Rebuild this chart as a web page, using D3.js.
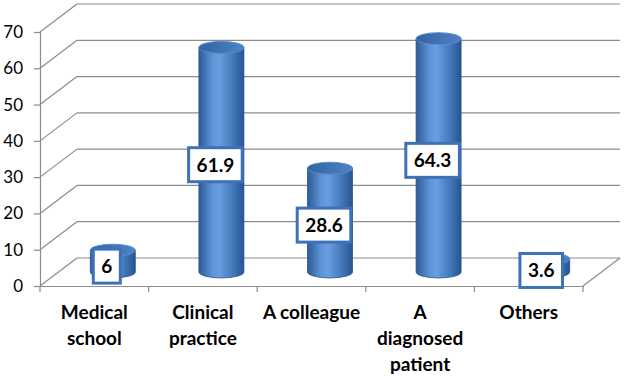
<!DOCTYPE html>
<html>
<head>
<meta charset="utf-8">
<script src="https://cdn.jsdelivr.net/npm/d3@7"></script>
<style>
    body { margin: 0; background: #fff; }
    svg { display: block; font-family: Lato, "Open Sans", sans-serif; }
</style>
</head>
<body>
<div id="chart"></div>
<script>
// data
let categories = [["Medical", "school"], ["Clinical", "practice"], ["A colleague"], ["A", "diagnosed", "patient"], ["Others"]];
let values = [6, 61.9, 28.6, 64.3, 3.6];
let valueLabels = ["6", "61.9", "28.6", "64.3", "3.6"];
let yTicks = [0, 10, 20, 30, 40, 50, 60, 70];

let width = 624, height = 378;
let depth = { dx: 37, dy: -28 };

let svg = d3.select("#chart")
    .append("svg")
    .attr("width", width)
    .attr("height", height);

let x = d3.scaleBand()
    .domain(d3.range(categories.length))
    .range([40, 583]);

let y = d3.scaleLinear()
    .domain([0, 70])
    .range([286, 32]);

// gradient for cylinder body
let defs = svg.append("defs");
let grad = defs.append("linearGradient")
    .attr("id", "cyl")
    .attr("x1", "0%").attr("x2", "100%")
    .attr("y1", "0%").attr("y2", "0%");
grad.append("stop").attr("offset", "0%").attr("stop-color", "#2d5b96");
grad.append("stop").attr("offset", "30%").attr("stop-color", "#5e93d6");
grad.append("stop").attr("offset", "45%").attr("stop-color", "#6a9edf");
grad.append("stop").attr("offset", "75%").attr("stop-color", "#4479bc");
grad.append("stop").attr("offset", "100%").attr("stop-color", "#27548f");

let topGrad = defs.append("linearGradient")
    .attr("id", "cylTop")
    .attr("x1", "0%").attr("x2", "100%");
topGrad.append("stop").attr("offset", "0%").attr("stop-color", "#3063a3");
topGrad.append("stop").attr("offset", "100%").attr("stop-color", "#4e83c5");

let gridColor = "#8c8c8c";
let x0 = x.range()[0], x1 = x.range()[1];

// back wall gridlines + left wall diagonals
let grid = svg.append("g").attr("class", "grid");
yTicks.forEach(t => {
    grid.append("line")
        .attr("x1", x0 + depth.dx).attr("x2", x1 + depth.dx)
        .attr("y1", y(t) + depth.dy).attr("y2", y(t) + depth.dy)
        .attr("stroke", gridColor).attr("stroke-width", 1.2);
    grid.append("line")
        .attr("x1", x0).attr("x2", x0 + depth.dx)
        .attr("y1", y(t)).attr("y2", y(t) + depth.dy)
        .attr("stroke", gridColor).attr("stroke-width", 1.2);
});

// floor right edge
grid.append("line")
    .attr("x1", x1).attr("x2", x1 + depth.dx)
    .attr("y1", y(0)).attr("y2", y(0) + depth.dy)
    .attr("stroke", gridColor).attr("stroke-width", 1.2);

// y axis
let yAxis = d3.axisLeft(y)
    .tickValues(yTicks)
    .tickSize(6)
    .tickPadding(11);
let yg = svg.append("g")
    .attr("transform", "translate(" + x0 + ",0)")
    .call(yAxis);
yg.select(".domain").attr("stroke", gridColor).attr("stroke-width", 1.2);
yg.selectAll(".tick line").attr("stroke", gridColor).attr("stroke-width", 1.2);
yg.selectAll(".tick text")
    .style("font-size", "17px")
    .style("font-family", "Lato, sans-serif")
    .attr("fill", "#000");

// x axis
let xAxis = d3.axisBottom(x)
    .tickValues([])
    .tickSizeOuter(0);
let xg = svg.append("g")
    .attr("transform", "translate(0," + y(0) + ")")
    .call(xAxis);
xg.select(".domain").attr("stroke", gridColor).attr("stroke-width", 1.2);
d3.range(categories.length + 1).forEach(i => {
    let px = i < categories.length ? x(i) : x1;
    xg.append("line")
        .attr("x1", px).attr("x2", px)
        .attr("y1", 0).attr("y2", 6)
        .attr("stroke", gridColor).attr("stroke-width", 1.2);
});

// category labels
categories.forEach((lines, i) => {
    let t = svg.append("text")
        .attr("x", x(i) + x.bandwidth() / 2)
        .attr("y", 319)
        .attr("text-anchor", "middle")
        .style("font-size", "19px")
        .style("font-weight", "bold")
        .attr("fill", "#000");
    lines.forEach((l, j) => {
        t.append("tspan")
            .attr("x", x(i) + x.bandwidth() / 2)
            .attr("dy", j === 0 ? 0 : 26)
            .text(l);
    });
});

// cylinders at half depth
let r = 22.5, ry = 6;
let cylX = i => x(i) + x.bandwidth() / 2 + depth.dx / 2;
let cylY = v => y(v) + depth.dy / 2;

let bars = svg.selectAll("g.cyl")
    .data(values)
    .enter()
    .append("g")
    .attr("class", "cyl");

bars.append("path")
    .attr("d", (d, i) => {
        let cx = cylX(i), top = cylY(d), bot = cylY(0);
        return "M" + (cx - r) + "," + top +
            " L" + (cx - r) + "," + bot +
            " A" + r + "," + ry + " 0 0 0 " + (cx + r) + "," + bot +
            " L" + (cx + r) + "," + top + " Z";
    })
    .attr("fill", "url(#cyl)")
    .attr("stroke", "#2a568f")
    .attr("stroke-width", 0.8);

bars.append("ellipse")
    .attr("cx", (d, i) => cylX(i))
    .attr("cy", d => cylY(d))
    .attr("rx", r)
    .attr("ry", ry)
    .attr("fill", "url(#cylTop)")
    .attr("stroke", "#5a8cc9")
    .attr("stroke-width", 1);

// value labels
let labels = svg.selectAll("g.vlabel")
    .data(values)
    .enter()
    .append("g")
    .attr("class", "vlabel")
    .attr("transform", (d, i) => "translate(" + (cylX(i) - 6) + "," + ((cylY(d) + cylY(0)) / 2 + 5) + ")");

labels.append("text")
    .attr("text-anchor", "middle")
    .attr("dy", "0.36em")
    .style("font-size", "19px")
    .style("font-weight", "bold")
    .attr("fill", "#000")
    .text((d, i) => valueLabels[i]);

labels.each(function() {
    let g = d3.select(this);
    let bb = g.select("text").node().getBBox();
    let w = bb.width + 16, h = 34;
    g.insert("rect", "text")
        .attr("x", -w / 2)
        .attr("y", -h / 2)
        .attr("width", w)
        .attr("height", h)
        .attr("fill", "#fff")
        .attr("stroke", "#3d72b8")
        .attr("stroke-width", 3);
});
</script>
</body>
</html>
